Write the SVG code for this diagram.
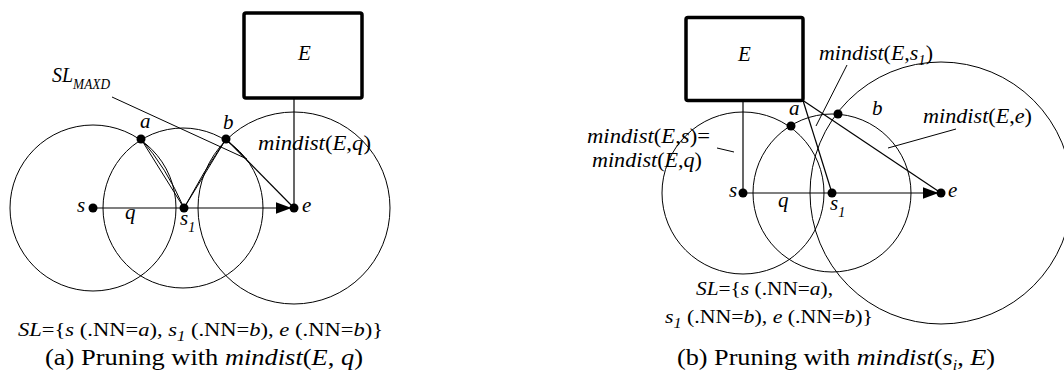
<svg xmlns="http://www.w3.org/2000/svg" width="1064" height="377" viewBox="0 0 1064 377">
<style>
text{font-family:"Liberation Serif","Times New Roman",serif;fill:#000}
.i{font-style:italic}
.lbl{font-size:21px;font-style:italic}
.sl{font-size:19px}
.cap{font-size:23px}
.sub{font-size:14px}
.circ{fill:none;stroke:#000;stroke-width:1}
.ln{fill:none;stroke:#000;stroke-width:1.2}
.thin{fill:none;stroke:#000;stroke-width:1}
.box{fill:#fff;stroke:#000;stroke-width:3.5}
.dot{fill:#000}
</style>
<defs>
<marker id="arr" markerUnits="userSpaceOnUse" markerWidth="20" markerHeight="12" refX="18.5" refY="6" orient="auto">
<path d="M0,0 L16,6 L0,12 z" fill="#000"/>
</marker>
</defs>

<!-- ===== Left diagram (a) ===== -->
<g id="a-circle-s"><circle class="circ" cx="93" cy="208" r="83"/></g>
<g id="a-circle-s1"><circle class="circ" cx="183" cy="208" r="80"/></g>
<g id="a-circle-e"><circle class="circ" cx="294" cy="208" r="96"/></g>

<g id="a-connectors">
<line class="ln" x1="294" y1="98" x2="294" y2="208"/>
<line class="thin" x1="141" y1="139" x2="184" y2="208"/>
<path class="thin" d="M141,139 Q166,167 184,208"/>
<line class="thin" x1="184" y1="208" x2="226" y2="139"/>
<path class="thin" d="M184,208 Q203,172 226,139"/>
<line class="ln" x1="226" y1="139" x2="294" y2="208"/>
<line class="thin" x1="112" y1="97" x2="247" y2="159"/>
<line class="ln" x1="93" y1="208" x2="294" y2="208" marker-end="url(#arr)"/>
</g>

<g id="a-E"><rect class="box" x="244" y="13" width="118" height="85" rx="2"/><text class="lbl" x="298" y="60" font-size="22">E</text></g>
<g id="a-s"><circle class="dot" cx="93" cy="208" r="4.5"/><text class="lbl" x="77" y="212">s</text></g>
<g id="a-q"><text class="lbl" x="125" y="219">q</text></g>
<g id="a-s1"><circle class="dot" cx="184" cy="208" r="4.5"/><text class="lbl" x="180" y="225">s<tspan class="sub" dy="7">1</tspan></text></g>
<g id="a-e"><circle class="dot" cx="294" cy="208" r="4.5"/><text class="lbl" x="302" y="212">e</text></g>
<g id="a-a"><circle class="dot" cx="141" cy="139" r="4.5"/><text class="lbl" x="140" y="128">a</text></g>
<g id="a-b"><circle class="dot" cx="226" cy="139" r="4.5"/><text class="lbl" x="223" y="129">b</text></g>
<g id="a-slmaxd"><text class="lbl" x="52" y="82" textLength="58" lengthAdjust="spacingAndGlyphs">SL<tspan class="sub" dy="7">MAXD</tspan></text></g>
<g id="a-mindist"><text x="258" y="150" font-size="21" textLength="113" lengthAdjust="spacingAndGlyphs"><tspan class="i">mindist</tspan>(<tspan class="i">E</tspan>,<tspan class="i">q</tspan>)</text></g>
<g id="a-sl"><text class="sl" x="18" y="336" textLength="365" lengthAdjust="spacingAndGlyphs"><tspan class="i">SL</tspan>={<tspan class="i">s</tspan> (.NN=<tspan class="i">a</tspan>), <tspan class="i">s</tspan><tspan class="sub i" dy="5">1</tspan><tspan dy="-5"> (.NN=</tspan><tspan class="i">b</tspan>), <tspan class="i">e</tspan> (.NN=<tspan class="i">b</tspan>)}</text></g>
<g id="a-caption"><text class="cap" x="45" y="365" textLength="318" lengthAdjust="spacingAndGlyphs">(a) Pruning with <tspan class="i">mindist</tspan>(<tspan class="i">E</tspan>, <tspan class="i">q</tspan>)</text></g>

<!-- ===== Right diagram (b) ===== -->
<g id="b-circle-s"><circle class="circ" cx="743" cy="193" r="81"/></g>
<g id="b-circle-s1"><circle class="circ" cx="832" cy="193" r="79"/></g>
<g id="b-circle-e"><circle class="circ" cx="941" cy="193" r="131"/></g>

<g id="b-connectors">
<line class="ln" x1="743" y1="100.5" x2="743" y2="193"/>
<line class="ln" x1="803" y1="100.5" x2="832" y2="193"/>
<line class="ln" x1="803" y1="100.5" x2="941" y2="193"/>
<line class="thin" x1="847" y1="65" x2="816" y2="126"/>
<line class="thin" x1="717" y1="148" x2="734" y2="152"/>
<line class="thin" x1="956" y1="129" x2="888" y2="148"/>
<line class="ln" x1="743" y1="193" x2="941" y2="193" marker-end="url(#arr)"/>
</g>

<g id="b-E"><rect class="box" x="686" y="17.5" width="117" height="83" rx="2"/><text class="lbl" x="738" y="61" font-size="22">E</text></g>
<g id="b-s"><circle class="dot" cx="743" cy="193" r="4.5"/><text class="lbl" x="729" y="197">s</text></g>
<g id="b-q"><text class="lbl" x="778" y="207">q</text></g>
<g id="b-s1"><circle class="dot" cx="832" cy="193" r="4.5"/><text class="lbl" x="830" y="210">s<tspan class="sub" dy="7">1</tspan></text></g>
<g id="b-e"><circle class="dot" cx="941" cy="193" r="4.5"/><text class="lbl" x="948" y="197">e</text></g>
<g id="b-a"><circle class="dot" cx="791" cy="126" r="4.5"/><text class="lbl" x="789" y="115">a</text></g>
<g id="b-b"><circle class="dot" cx="838" cy="114" r="4.5"/><text class="lbl" x="872" y="115">b</text></g>
<g id="b-mindist-s1"><text x="819" y="60" font-size="21" textLength="114" lengthAdjust="spacingAndGlyphs"><tspan class="i">mindist</tspan>(<tspan class="i">E</tspan>,<tspan class="i">s</tspan><tspan class="sub i" dy="5">1</tspan><tspan dy="-5">)</tspan></text></g>
<g id="b-mindist-s"><text x="587" y="143" font-size="21" textLength="123" lengthAdjust="spacingAndGlyphs"><tspan class="i">mindist</tspan>(<tspan class="i">E</tspan>,<tspan class="i">s</tspan>)=</text>
<text x="592" y="167" font-size="21" textLength="110" lengthAdjust="spacingAndGlyphs"><tspan class="i">mindist</tspan>(<tspan class="i">E</tspan>,<tspan class="i">q</tspan>)</text></g>
<g id="b-mindist-e"><text x="923" y="123" font-size="21" textLength="109" lengthAdjust="spacingAndGlyphs"><tspan class="i">mindist</tspan>(<tspan class="i">E</tspan>,<tspan class="i">e</tspan>)</text></g>
<g id="b-sl"><text class="sl" x="696" y="295" textLength="137" lengthAdjust="spacingAndGlyphs"><tspan class="i">SL</tspan>={<tspan class="i">s</tspan> (.NN=<tspan class="i">a</tspan>),</text>
<text class="sl" x="665" y="323" textLength="208" lengthAdjust="spacingAndGlyphs"><tspan class="i">s</tspan><tspan class="sub i" dy="5">1</tspan><tspan dy="-5"> (.NN=</tspan><tspan class="i">b</tspan>), <tspan class="i">e</tspan> (.NN=<tspan class="i">b</tspan>)}</text></g>
<g id="b-caption"><text class="cap" x="677" y="365" textLength="318" lengthAdjust="spacingAndGlyphs">(b) Pruning with <tspan class="i">mindist</tspan>(<tspan class="i">s</tspan><tspan class="sub i" dy="5">i</tspan><tspan dy="-5">, </tspan><tspan class="i">E</tspan>)</text></g>
</svg>
